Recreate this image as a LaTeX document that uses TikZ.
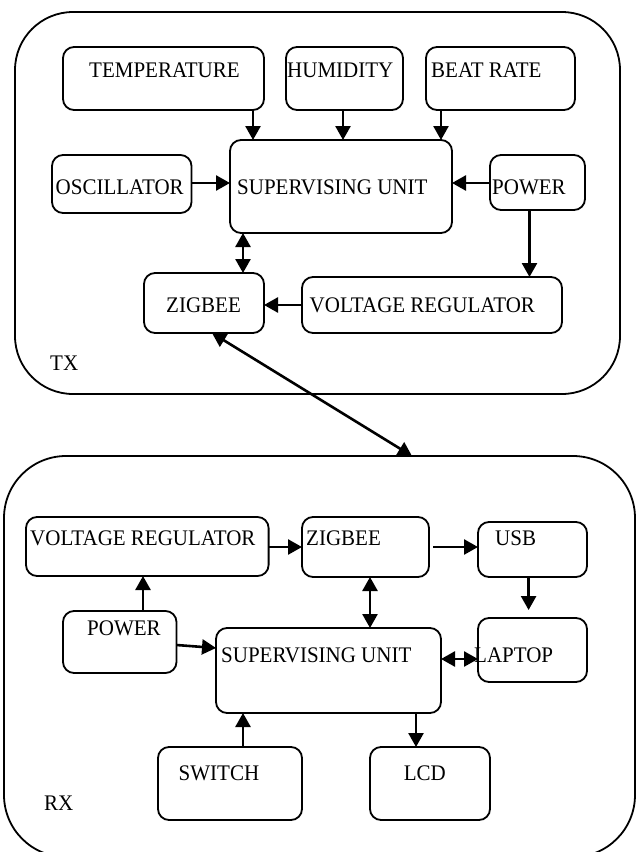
\documentclass[tikz,border=0pt]{standalone}
\usepackage{fontspec}
\setmainfont{Liberation Serif}
\usetikzlibrary{arrows.meta}
\newcommand\mkbox[7][11pt]{\node[box,rounded corners=#1,minimum width={#5-#3},minimum height={#6-#4}] (#2) at (#3,#4) {};}
\newcommand\tall[1]{\scalebox{1}[1.06]{#1}}
\begin{document}
\begin{tikzpicture}[x=1pt,y=-1pt,
  box/.style={draw, line width=1.8pt, inner sep=0pt, outer sep=0pt, anchor=north west},
  lbl/.style={inner sep=0pt, anchor=west, font=\fontsize{21}{25}\selectfont},
  arr/.style={line width=2.6pt, -{Triangle[length=14pt,width=15pt]}},
  darr/.style={line width=2.6pt, {Triangle[length=14pt,width=15pt]}-{Triangle[length=14pt,width=15pt]}}]
\useasboundingbox (0,0) rectangle (636,852);
\clip (0,0) rectangle (636,852);
% ---------- TX ----------
\mkbox[58pt]{tx}{15}{12}{620}{394}{}
\mkbox{temp}{63}{47}{264}{110}{}
\mkbox{hum}{286}{47}{403}{110}{}
\mkbox{beat}{426}{47}{575}{110}{}
\mkbox{su1}{230}{140}{452}{233}{}
\mkbox{osc}{52}{155}{191.5}{213}{}
\mkbox{pow1}{490}{155}{585}{210}{}
\mkbox{zig1}{144}{273}{264}{333}{}
\mkbox{vr1}{302}{277}{562}{333}{}
\node[lbl] (temp-t) at (89,70) {\tall{TEMPERATURE}};
\node[lbl] (hum-t) at (287,70) {\tall{HUMIDITY}};
\node[lbl] (beat-t) at (431,70) {\tall{BEAT RATE}};
\node[lbl] (su1-t) at (237,187) {\tall{SUPERVISING UNIT}};
\node[lbl] (osc-t) at (55.5,187) {\tall{OSCILLATOR}};
\node[lbl] (pow1-t) at (492,187) {\tall{POWER}};
\node[lbl] (zig1-t) at (166,305) {\tall{ZIGBEE}};
\node[lbl] (vr1-t) at (309.5,305) {\tall{VOLTAGE REGULATOR}};
\node[lbl] (tx-t) at (50,363) {\tall{TX}};
\draw[arr] (253,0 |- temp.south) -- (253,0 |- su1.north);
\draw[arr] (343,0 |- hum.south) -- (343,0 |- su1.north);
\draw[arr] (441,0 |- beat.south) -- (441,0 |- su1.north);
\draw[arr] (osc.east |- 0,183) -- (su1.west |- 0,183);
\draw[arr] (pow1.west |- 0,183) -- (su1.east |- 0,183);
\draw[arr] (529.5,0 |- pow1.south) -- (529.5,0 |- vr1.north);
\draw[darr] (243,0 |- su1.south) -- (243,0 |- zig1.north);
\draw[arr] (vr1.west |- 0,305) -- (zig1.east |- 0,305);
% ---------- RX ----------
\mkbox[62pt]{rx}{4}{456}{635}{857}{}
\mkbox{vr2}{26}{517}{268.6}{576}{}
\mkbox{zig2}{302}{517}{429}{577}{}
\mkbox{usb}{478}{522}{587}{577}{}
\mkbox{pow2}{63}{611}{176.5}{673}{}
\mkbox{su2}{216}{628}{441}{713}{}
\mkbox{lap}{478}{618}{587}{682}{}
\mkbox{sw}{158}{747}{302}{820}{}
\mkbox{lcd}{370}{747}{490}{820}{}
\node[lbl] (vr2-t) at (30,538) {\tall{VOLTAGE REGULATOR}};
\node[lbl] (zig2-t) at (306,538) {\tall{ZIGBEE}};
\node[lbl] (usb-t) at (495,538) {\tall{USB}};
\node[lbl] (pow2-t) at (87,628) {\tall{POWER}};
\node[lbl] (su2-t) at (221,655) {\tall{SUPERVISING UNIT}};
\node[lbl] (lap-t) at (474,655) {\tall{LAPTOP}};
\node[lbl] (sw-t) at (178.5,773) {\tall{SWITCH}};
\node[lbl] (lcd-t) at (403.6,773) {\tall{LCD}};
\node[lbl] (rx-t) at (44,803) {\tall{RX}};
\draw[arr] (vr2.east |- 0,547) -- (zig2.west |- 0,547);
\coordinate (zu) at (433,547);
\draw[arr] (zu) -- (usb.west |- zu);
\coordinate (ul) at (528.6,610);
\draw[arr] (528.6,0 |- usb.south) -- (ul);
\draw[arr] (143,0 |- pow2.north) -- (143,0 |- vr2.south);
\draw[arr] (pow2.east |- 0,645) -- (su2.west |- 0,648);
\draw[darr] (370,0 |- zig2.south) -- (370,0 |- su2.north);
\draw[darr] (su2.east |- 0,659) -- (lap.west |- 0,659);
\draw[arr] (416,0 |- su2.south) -- (416,0 |- lcd.north);
\draw[arr] (243,0 |- sw.north) -- (243,0 |- su2.south);
% ---------- link ----------
\draw[darr] (212,0 |- zig1.south) -- (412,0 |- rx.north);
\end{tikzpicture}
\end{document}
